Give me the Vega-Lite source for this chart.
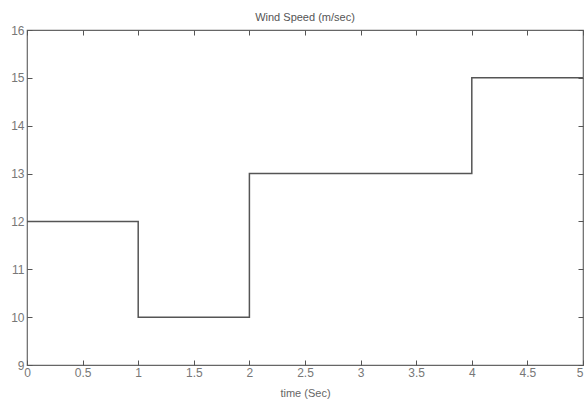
{
  "$schema": "https://vega.github.io/schema/vega-lite/v6.json",
  "width": 556,
  "height": 335,
  "autosize": {"type": "none"},
  "padding": {"left": 27, "top": 30, "right": 2, "bottom": 38},
  "background": "white",
  "title": {"text": "Wind Speed (m/sec)", "font": "Liberation Sans", "fontSize": 11, "fontWeight": "normal", "color": "#555", "offset": 1},
  "config": {
    "view": {"stroke": "#666", "strokeWidth": 1.2},
    "axis": {"grid": false, "domain": false, "tickSize": -5, "tickColor": "#555", "labelFont": "Liberation Sans", "labelFontSize": 12, "labelColor": "#777", "titleFont": "Liberation Sans", "titleFontSize": 11, "titleFontWeight": "normal", "titleColor": "#666", "format": "~g"}
  },
  "data": {"values": [
    {"t": 0, "v": 12},
    {"t": 1, "v": 10},
    {"t": 2, "v": 13},
    {"t": 3, "v": 13},
    {"t": 4, "v": 15},
    {"t": 5, "v": 15}
  ]},
  "layer": [
    {
      "mark": {"type": "line", "interpolate": "step-after", "color": "#555", "strokeWidth": 1.5},
      "encoding": {
        "x": {"field": "t", "type": "quantitative", "scale": {"domain": [0, 5], "nice": false}, "axis": {"values": [0,0.5,1,1.5,2,2.5,3,3.5,4,4.5,5], "format": "~g", "title": "time (Sec)", "labelPadding": 7, "titlePadding": 9, "labelFlush": false, "labelAlign": {"condition": {"test": "datum.value == 5", "value": "right"}, "value": "center"}}},
        "y": {"field": "v", "type": "quantitative", "scale": {"domain": [9, 16], "nice": false, "zero": false}, "axis": {"values": [9,10,11,12,13,14,15,16], "format": "~g", "title": null, "labelPadding": 8}}
      }
    },
    {
      "mark": {"type": "point", "opacity": 0},
      "encoding": {
        "x": {"field": "t", "type": "quantitative", "scale": {"domain": [0, 5], "nice": false}, "axis": {"orient": "top", "values": [0,0.5,1,1.5,2,2.5,3,3.5,4,4.5,5], "labels": false, "title": null}},
        "y": {"field": "v", "type": "quantitative", "scale": {"domain": [9, 16], "nice": false, "zero": false}, "axis": {"orient": "right", "values": [9,10,11,12,13,14,15,16], "labels": false, "title": null}}
      }
    }
  ],
  "resolve": {"axis": {"x": "independent", "y": "independent"}}
}
